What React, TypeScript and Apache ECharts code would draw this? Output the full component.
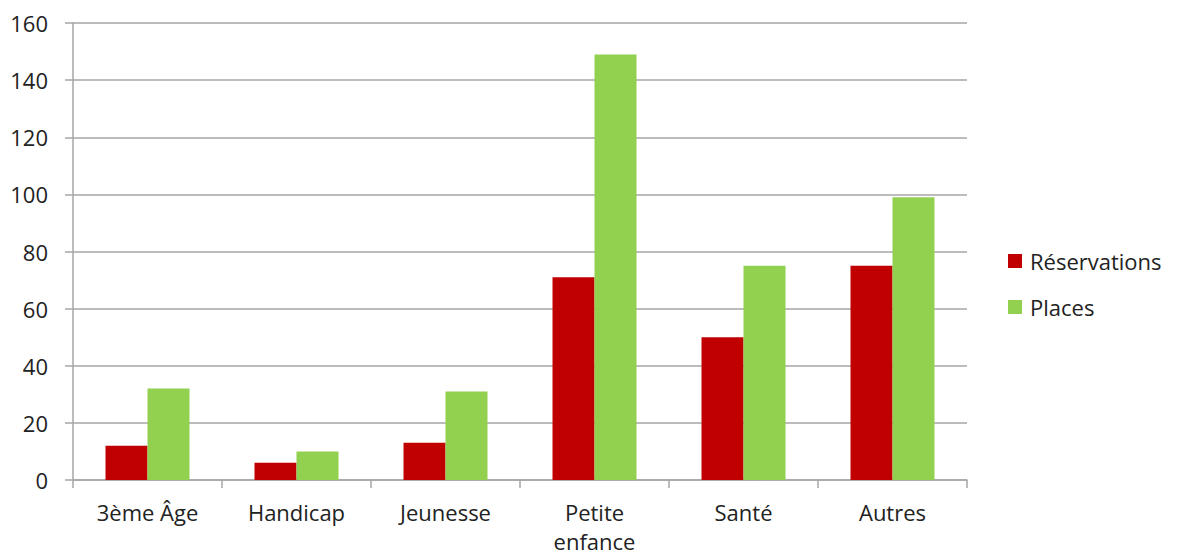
import React, { useEffect, useRef } from "react";
import * as echarts from "echarts";

const categories = ["3ème Âge", "Handicap", "Jeunesse", "Petite\nenfance", "Santé", "Autres"];
const reservations = [12, 6, 13, 71, 50, 75];
const places = [32, 10, 31, 149, 75, 99];
const seriesNames = ["Réservations", "Places"];

const FONT = "'Open Sans', sans-serif";

export default function App() {
  const ref = useRef<HTMLDivElement>(null);
  useEffect(() => {
    document.body.style.margin = "0";
    const chart = echarts.init(ref.current!, null, { renderer: "svg" });
    chart.setOption({
      animation: false,
      backgroundColor: "#ffffff",
      textStyle: { fontFamily: FONT },
      grid: { left: 73, right: 211, top: 23, bottom: 75, containLabel: false, outerBoundsMode: "none" },
      legend: {
        orient: "vertical",
        left: 1003,
        top: 245,
        itemWidth: 14,
        itemHeight: 14,
        itemGap: 24,
        icon: "rect",
        textStyle: { fontSize: 22, color: "#222", fontFamily: FONT, padding: [0, 0, 0, 3] },
        data: seriesNames,
      },
      xAxis: {
        type: "category",
        data: categories,
        axisLine: { lineStyle: { color: "#a6a6a6", width: 1.5 } },
        axisTick: { show: true, length: 8, lineStyle: { color: "#a6a6a6", width: 1.5 } },
        axisLabel: { fontSize: 22, color: "#222", margin: 17, lineHeight: 29, fontFamily: FONT, interval: 0 },
      },
      yAxis: {
        type: "value",
        min: 0,
        max: 160,
        interval: 20,
        axisLine: { show: true, lineStyle: { color: "#a6a6a6", width: 1.5 } },
        axisTick: { show: true, length: 8, lineStyle: { color: "#a6a6a6", width: 1.5 } },
        splitLine: { lineStyle: { color: "#a6a6a6", width: 1.5 } },
        axisLabel: { fontSize: 22, color: "#222", margin: 25, fontFamily: FONT },
      },
      series: [
        {
          name: seriesNames[0],
          type: "bar",
          data: reservations,
          barWidth: 42,
          barGap: "0%",
          itemStyle: { color: "#C00000" },
        },
        {
          name: seriesNames[1],
          type: "bar",
          data: places,
          barWidth: 42,
          barGap: "0%",
          itemStyle: { color: "#92D050" },
        },
      ],
    });
    return () => chart.dispose();
  }, []);
  return <div ref={ref} style={{ width: 1178, height: 555 }} />;
}
